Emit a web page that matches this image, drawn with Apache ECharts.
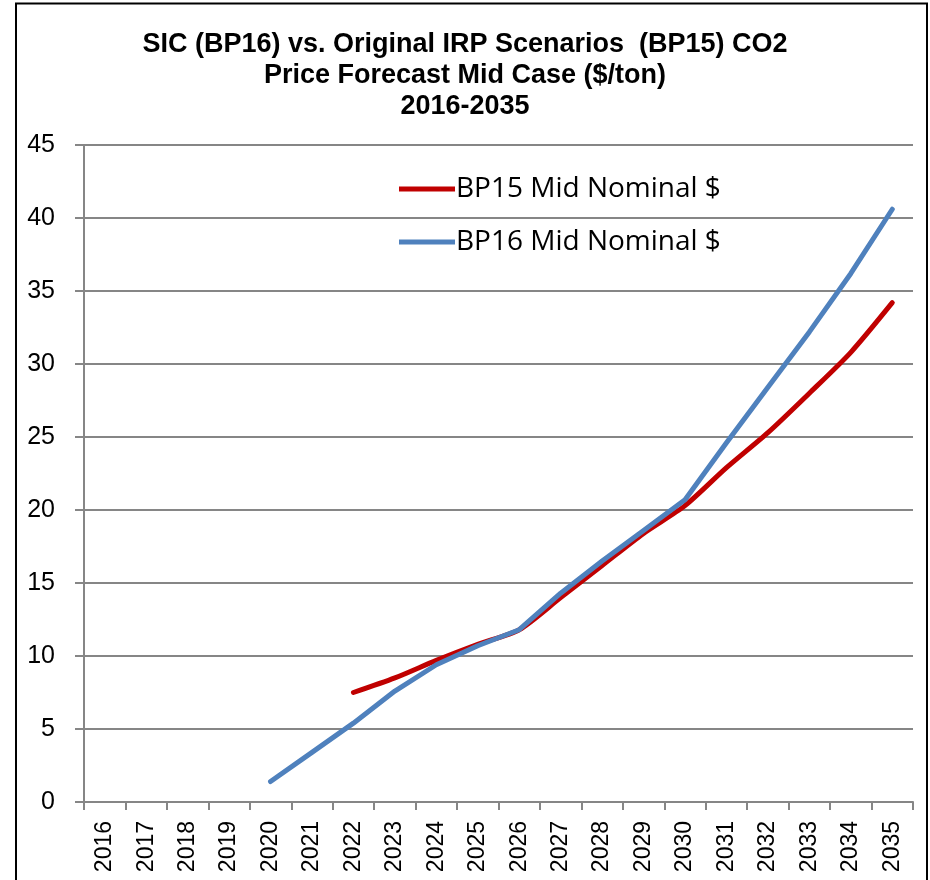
<!DOCTYPE html>
<html>
<head>
<meta charset="utf-8">
<script src="https://cdn.jsdelivr.net/npm/echarts@6/dist/echarts.min.js"></script>
<style>
  html, body { margin: 0; padding: 0; background: #fff; }
  #chart { width: 930px; height: 880px; }
</style>
</head>
<body>
<div id="chart"></div>
<script>
// years on the category axis
const years = ['2016', '2017', '2018', '2019', '2020', '2021', '2022', '2023', '2024', '2025',
  '2026', '2027', '2028', '2029', '2030', '2031', '2032', '2033', '2034', '2035'];

// BP15 Mid Nominal $ (starts 2022)
const bp15 = [null, null, null, null, null, null, 7.5, 8.5, 9.7, 10.8,
  11.8, 14.0, 16.2, 18.4, 20.3, 22.9, 25.3, 28.0, 30.8, 34.2];

// BP16 Mid Nominal $ (starts 2020)
const bp16 = [null, null, null, null, 1.4, 3.4, 5.4, 7.6, 9.4, 10.7,
  11.8, 14.3, 16.5, 18.6, 20.7, 24.6, 28.4, 32.2, 36.2, 40.6];

const titleLines = [
  'SIC (BP16) vs. Original IRP Scenarios  (BP15) CO2',
  'Price Forecast Mid Case ($/ton)',
  '2016-2035'
];

const chart = echarts.init(document.getElementById('chart'));

const gray = '#868686';

const option = {
  backgroundColor: '#fff',
  animation: false,
  title: {
    text: titleLines.join('\n'),
    left: 'center',
    top: 24,
    textStyle: {
      fontFamily: 'Liberation Sans, Arial',
      fontWeight: 'bold',
      fontSize: 27,
      lineHeight: 31,
      color: '#000'
    }
  },
  graphic: [{
    type: 'rect',
    shape: { x: 16, y: 3.5, width: 911, height: 900 },
    style: { fill: 'none', stroke: '#000', lineWidth: 2 },
    silent: true
  }],
  legend: {
    orient: 'vertical',
    left: 394,
    top: 170,
    itemWidth: 56,
    itemHeight: 5,
    itemGap: 25,
    icon: 'rect',
    data: ['BP15 Mid Nominal $', 'BP16 Mid Nominal $'],
    textStyle: {
      fontFamily: 'Open Sans',
      fontSize: 28,
      color: '#000',
      padding: [0, 0, 0, -4]
    }
  },
  grid: {
    left: 84,
    right: 17,
    top: 145,
    bottom: 78,
    containLabel: false
  },
  xAxis: {
    type: 'category',
    data: years,
    boundaryGap: true,
    axisLine: { lineStyle: { color: gray, width: 2 } },
    axisTick: { show: true, length: 8, lineStyle: { color: gray, width: 2 } },
    axisLabel: {
      rotate: 90,
      interval: 0,
      margin: 19,
      fontFamily: 'Liberation Sans, Arial',
      fontSize: 23,
      color: '#000'
    },
    splitLine: { show: false }
  },
  yAxis: {
    type: 'value',
    min: 0,
    max: 45,
    interval: 5,
    axisLine: { show: true, lineStyle: { color: gray, width: 2 } },
    axisTick: { show: true, length: 9, lineStyle: { color: gray, width: 2 } },
    axisLabel: {
      margin: 29,
      fontFamily: 'Liberation Sans, Arial',
      fontSize: 25,
      color: '#000'
    },
    splitLine: { show: true, lineStyle: { color: gray, width: 2 } }
  },
  series: [
    {
      name: 'BP15 Mid Nominal $',
      type: 'line',
      data: bp15,
      smooth: 0.25,
      showSymbol: false,
      connectNulls: false,
      itemStyle: { color: '#C00000' },
      lineStyle: { color: '#C00000', width: 5, cap: 'round' },
      z: 2
    },
    {
      name: 'BP16 Mid Nominal $',
      type: 'line',
      data: bp16,
      smooth: false,
      showSymbol: false,
      itemStyle: { color: '#4F81BD' },
      lineStyle: { color: '#4F81BD', width: 5, cap: 'round', join: 'round' },
      z: 3
    }
  ]
};

chart.setOption(option);
</script>
</body>
</html>
